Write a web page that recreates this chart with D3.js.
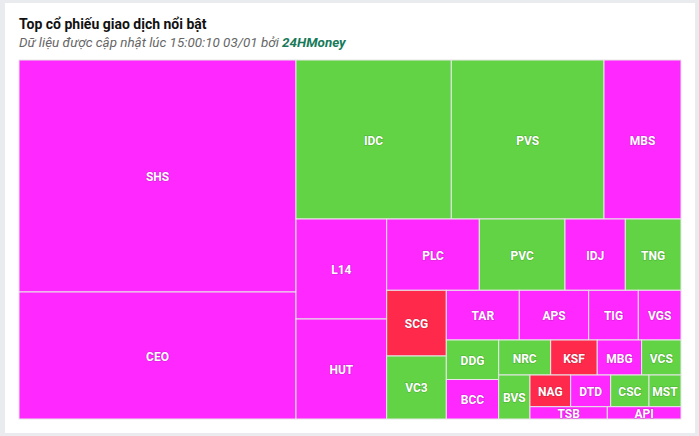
<!DOCTYPE html>
<html>
<head>
<meta charset="utf-8">
<script src="https://cdn.jsdelivr.net/npm/d3@7"></script>
<style>
  html, body { margin: 0; padding: 0; background: #e9ebee; }
  svg { display: block; }
</style>
</head>
<body>
<svg id="chart" width="699" height="436"></svg>
<script>
// ---- Data ----
const tickers = ["SHS","CEO","IDC","PVS","MBS","L14","HUT","PLC","PVC","IDJ","TNG","SCG","VC3","TAR","APS","TIG","VGS","DDG","BCC","NRC","KSF","MBG","VCS","BVS","NAG","DTD","CSC","MST","TSB","API"];
const values  = [64264,35179,24693,24279,12243,9070,9070,6602,6110,4299,3971,3916,3755,3628,3449,2465,2122,2070,2070,1820,1631,1554,1380,1375,1290,1268,1214,1014,951,906];
const status  = ["tran","tran","tang","tang","tran","tran","tran","tran","tang","tran","tang","giam","tang","tran","tran","tran","tran","tang","tran","tang","giam","tran","tang","tang","giam","tran","tang","tang","tran","tran"];
const statusColors = { tran: "#ff28ff", tang: "#62d345", giam: "#ff2a4b" };
const titleText = "Top cổ phiếu giao dịch nổi bật";
const subtitlePrefix = "Dữ liệu được cập nhật lúc 15:00:10 03/01 bởi ";
const subtitleBrand = "24HMoney";

const svg = d3.select("#chart");

// card
svg.append("rect").attr("x", 5).attr("y", 3).attr("width", 690).attr("height", 430).attr("fill", "#ffffff");

svg.append("text").attr("x", 19).attr("y", 29)
  .attr("font-family", "Roboto, 'Noto Sans', sans-serif").attr("font-size", 14).attr("font-weight", 700)
  .attr("fill", "#111").text(titleText);

const sub = svg.append("text").attr("x", 19).attr("y", 47)
  .attr("font-family", "Roboto, 'Noto Sans', sans-serif").attr("font-size", 13.4).attr("font-style", "italic")
  .attr("fill", "#666");
sub.append("tspan").text(subtitlePrefix);
sub.append("tspan").attr("font-weight", 700).attr("fill", "#177a5a").text(subtitleBrand);

// ---- Alternating-direction squarified tiling ----
function alternatingSquarify(parent, x0, y0, x1, y1) {
  const nodes = parent.children;
  const n = nodes.length;
  const scale = (x1 - x0) * (y1 - y0) / parent.value;
  const area = d => d.value * scale;
  const ratio = (w, h) => Math.max(w / h, h / w);
  let gx = x0, gy = y0, gw = x1 - x0, gh = y1 - y0;
  let dir = 0; // 0 = column (stack vertically), 1 = row (stack horizontally)
  let i = 0;
  while (i < n) {
    const group = [nodes[i]];
    let sum = area(nodes[i]);
    let j = i + 1;
    while (j < n) {
      const last = area(group[group.length - 1]);
      const a = area(nodes[j]);
      let oldR, newR;
      if (dir === 0) {
        const ow = sum / gh, nw = (sum + a) / gh;
        oldR = ratio(ow, last / ow); newR = ratio(nw, last / nw);
      } else {
        const oh = sum / gw, nh = (sum + a) / gw;
        oldR = ratio(last / oh, oh); newR = ratio(last / nh, nh);
      }
      if (newR > oldR) break;
      group.push(nodes[j]); sum += a; j++;
    }
    if (dir === 0) {
      const w = sum / gh;
      let y = gy;
      group.forEach(d => { const h = area(d) / w; d.x0 = gx; d.x1 = gx + w; d.y0 = y; d.y1 = y + h; y += h; });
      gx += w; gw -= w;
    } else {
      const h = sum / gw;
      let x = gx;
      group.forEach(d => { const w = area(d) / h; d.x0 = x; d.x1 = x + w; d.y0 = gy; d.y1 = gy + h; x += w; });
      gy += h; gh -= h;
    }
    dir = 1 - dir;
    i = j;
  }
}

const data = tickers.map((t, k) => ({ name: t, value: values[k], status: status[k] }));
const root = d3.hierarchy({ children: data }).sum(d => d.value || 0);
d3.treemap().size([662, 359]).tile(alternatingSquarify).round(false)(root);

const g = svg.append("g").attr("transform", "translate(19,60)");
const cells = g.selectAll("g.cell").data(root.leaves()).join("g").attr("class", "cell");
cells.append("rect")
  .attr("x", d => d.x0).attr("y", d => d.y0)
  .attr("width", d => d.x1 - d.x0).attr("height", d => d.y1 - d.y0)
  .attr("fill", d => statusColors[d.data.status])
  .attr("stroke", "#e6e6e6").attr("stroke-width", 1);
cells.append("text")
  .attr("x", d => (d.x0 + d.x1) / 2).attr("y", d => (d.y0 + d.y1) / 2 + 1)
  .attr("text-anchor", "middle").attr("dominant-baseline", "central")
  .attr("font-family", "Roboto, 'Noto Sans', sans-serif").attr("font-size", 12).attr("font-weight", 700)
  .attr("fill", "#ffffff")
  .attr("stroke", "rgba(0,0,0,0.15)").attr("stroke-width", 1.5).attr("paint-order", "stroke")
  .text(d => d.data.name);
</script>
</body>
</html>
